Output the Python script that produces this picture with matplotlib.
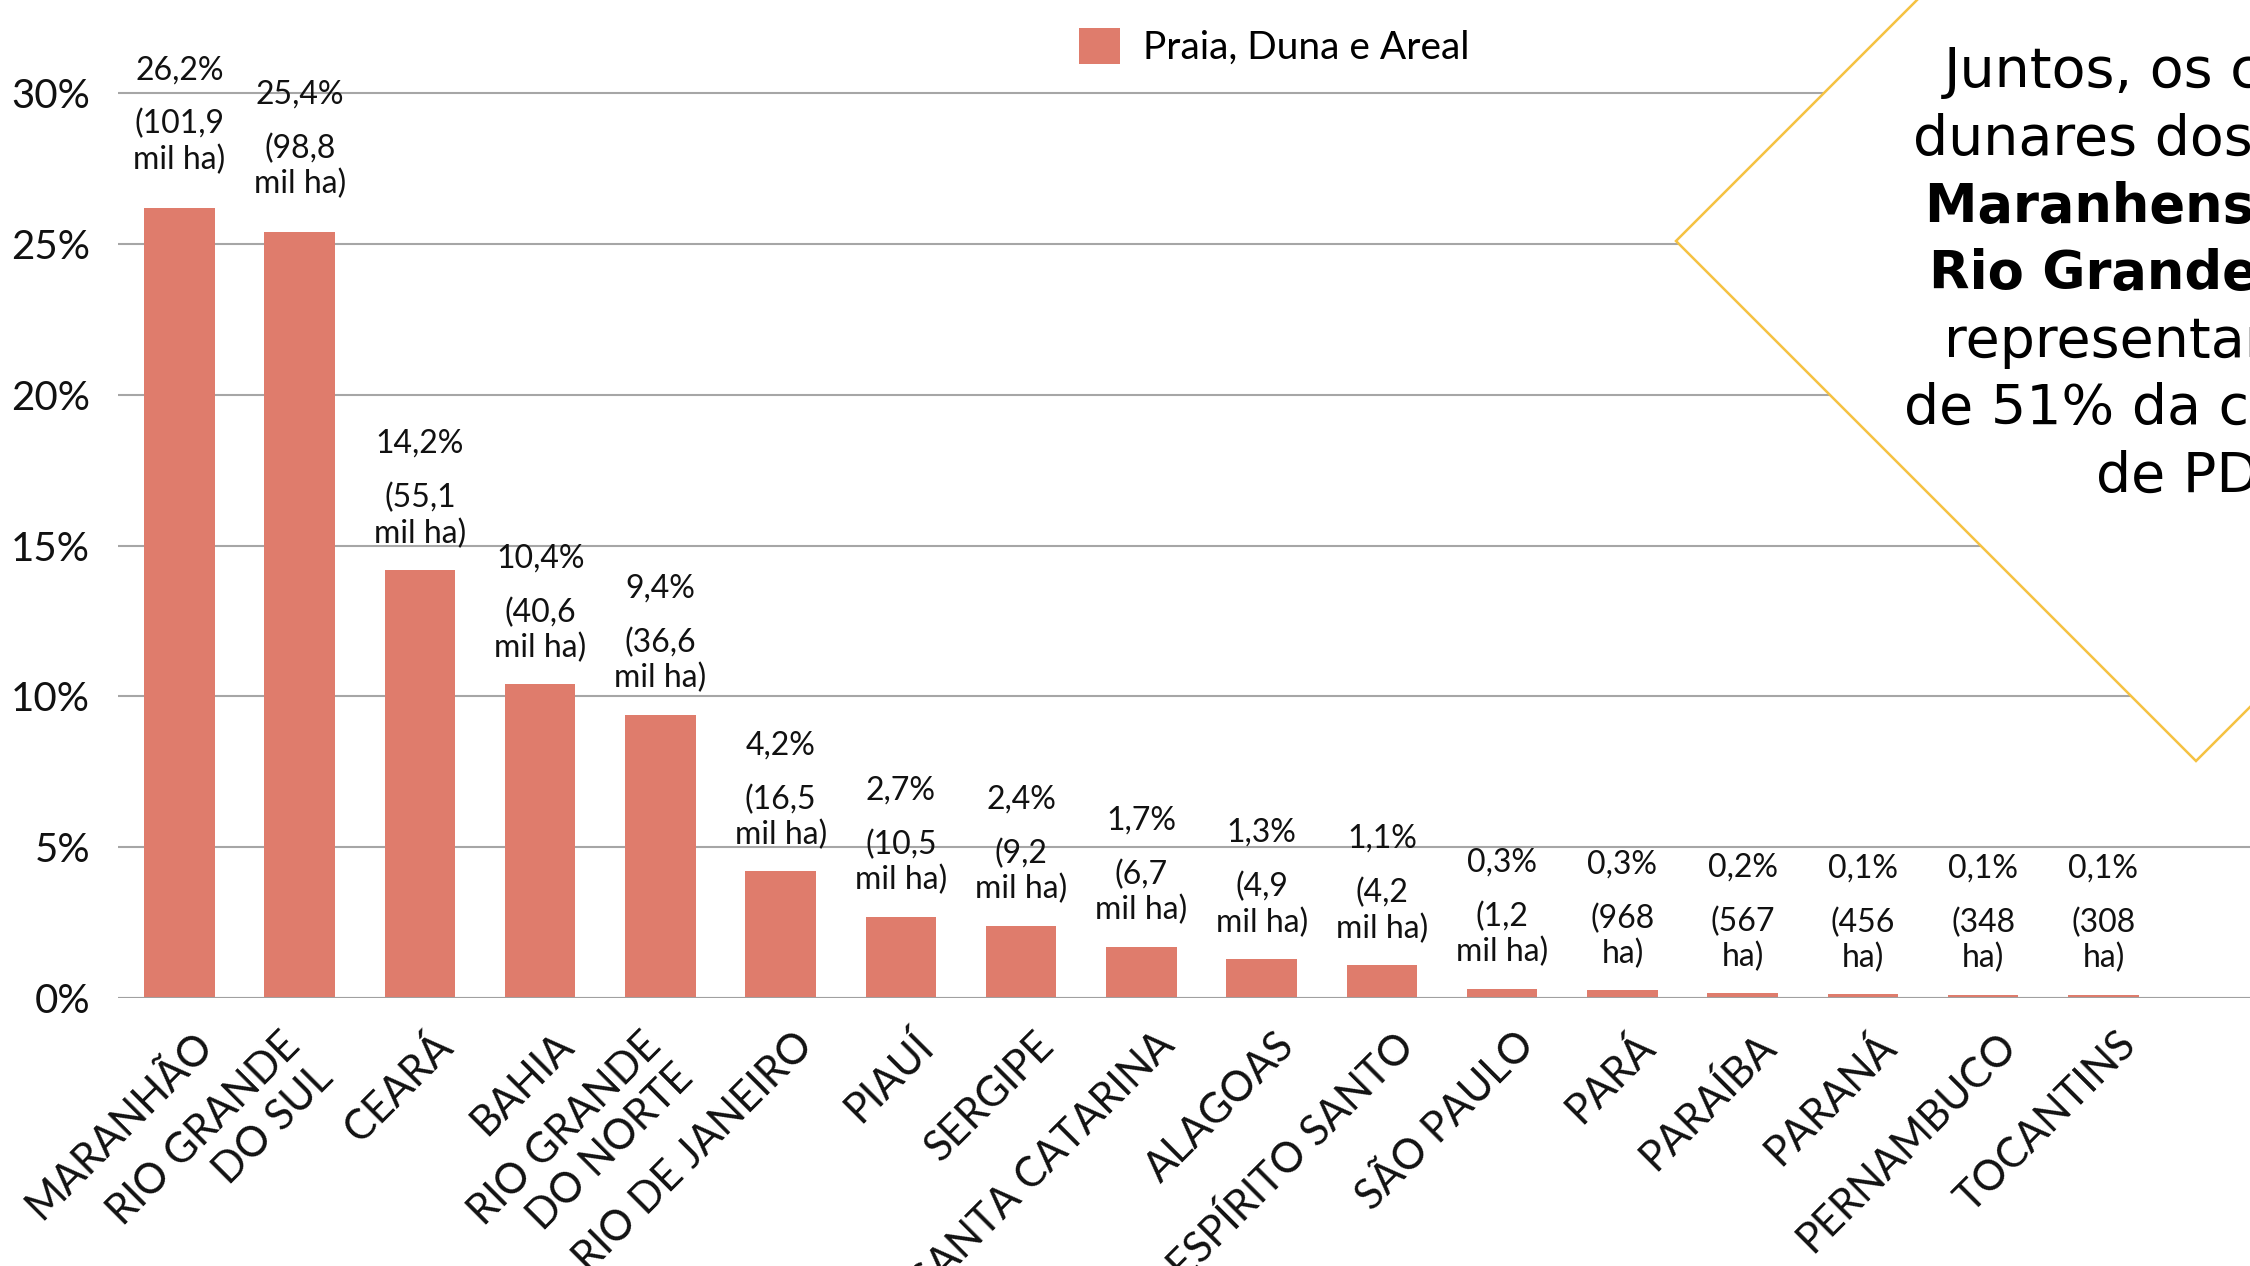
import matplotlib.pyplot as plt
from matplotlib.patches import Polygon
from matplotlib.transforms import ScaledTranslation

plt.rcParams['font.family'] = ['Lato', 'DejaVu Sans']

# Data
states = ['MARANHÃO', 'RIO GRANDE\nDO SUL', 'CEARÁ', 'BAHIA', 'RIO GRANDE\nDO NORTE',
          'RIO DE JANEIRO', 'PIAUÍ', 'SERGIPE', 'SANTA CATARINA', 'ALAGOAS',
          'ESPÍRITO SANTO', 'SÃO PAULO', 'PARÁ', 'PARAÍBA', 'PARANÁ',
          'PERNAMBUCO', 'TOCANTINS']
pct = [26.2, 25.4, 14.2, 10.4, 9.4, 4.2, 2.7, 2.4, 1.7, 1.3, 1.1,
       0.31, 0.25, 0.15, 0.12, 0.11, 0.11]
pct_labels = ['26,2%', '25,4%', '14,2%', '10,4%', '9,4%', '4,2%', '2,7%', '2,4%',
              '1,7%', '1,3%', '1,1%', '0,3%', '0,3%', '0,2%', '0,1%', '0,1%', '0,1%']
area_labels = ['(101,9\nmil ha)', '(98,8\nmil ha)', '(55,1\nmil ha)', '(40,6\nmil ha)',
               '(36,6\nmil ha)', '(16,5\nmil ha)', '(10,5\nmil ha)', '(9,2\nmil ha)',
               '(6,7\nmil ha)', '(4,9\nmil ha)', '(4,2\nmil ha)', '(1,2\nmil ha)',
               '(968\nha)', '(567\nha)', '(456\nha)', '(348\nha)', '(308\nha)']
yticks = [0, 5, 10, 15, 20, 25, 30]

note_lines = ['Juntos, os campos', 'dunares dos Lençóis', 'Maranhenses e do',
              'Rio Grande do Sul', 'representam mais', 'de 51% da cobertura', 'de PDA']
note_bold = [False, False, True, True, False, False, False]

W, H = 2250, 1266
fig = plt.figure(figsize=(W / 100, H / 100), dpi=100)
step = 120.25  # pixels per category
ax = fig.add_axes([118 / W, 268 / H, 18.011 * step / W, 998 / H])

x = list(range(len(states)))
bars = ax.bar(x, pct, width=0.587, color='#DF7C6C', label='Praia, Duna e Areal', zorder=2)

ax.set_xlim(-0.511, 17.5)
ax.set_ylim(0, 33.1)
ax.set_yticks(yticks)
ax.set_yticklabels([f'{v}%' for v in yticks], fontsize=29, color='#111111')
ax.grid(axis='y', color='#a6a6a6', lw=1.5)
ax.set_axisbelow(True)
ax.axhline(0, color='#a0a0a0', lw=2.2, zorder=3)
for s in ax.spines.values():
    s.set_visible(False)
ax.tick_params(length=0)
ax.tick_params(axis='y', pad=20)
ax.tick_params(axis='x', pad=20)

ax.set_xticks(x)
ax.set_xticklabels(states, rotation=45, ha='right', va='top',
                   fontsize=30, linespacing=1.25, color='#111111')
for lab in ax.get_xticklabels():
    lab.set_transform(lab.get_transform() + ScaledTranslation(0.40, 0, fig.dpi_scale_trans))

# value labels above bars (the two tallest sit a little higher in the original)
for i in x:
    lift = 12 if pct[i] > 20 else 0
    ax.annotate(area_labels[i], (i, pct[i]), xytext=(0, 54 + lift), textcoords='offset pixels',
                ha='center', va='center', fontsize=23, linespacing=1.2, color='#111111')
    ax.annotate(pct_labels[i], (i, pct[i]), xytext=(0, 126 + lift), textcoords='offset pixels',
                ha='center', va='center', fontsize=23, color='#111111')

fig.legend(handles=[bars], loc='center', bbox_to_anchor=(1274 / W, 1 - 47 / H),
           frameon=False, handlelength=1.05, handleheight=1.05,
           handletextpad=0.6, prop={'size': 28})

# diamond call-out on the right
cx, cy, r = 2196, H - 241, 520
diamond = Polygon([((cx - r) / W, cy / H), (cx / W, (cy + r) / H),
                   ((cx + r) / W, cy / H), (cx / W, (cy - r) / H)],
                  closed=True, transform=fig.transFigure, facecolor='white',
                  edgecolor='#F5C242', lw=1.8, zorder=5, clip_on=False)
ax.add_patch(diamond)

for k, line in enumerate(note_lines):
    fig.text(cx / W, 1 - (72 + 67.4 * k) / H, line, ha='center', va='center',
             fontsize=38 if note_bold[k] else 40, family='DejaVu Sans',
             fontweight='bold' if note_bold[k] else 'normal', color='black', zorder=6)

fig.savefig('out.png', dpi=100)
